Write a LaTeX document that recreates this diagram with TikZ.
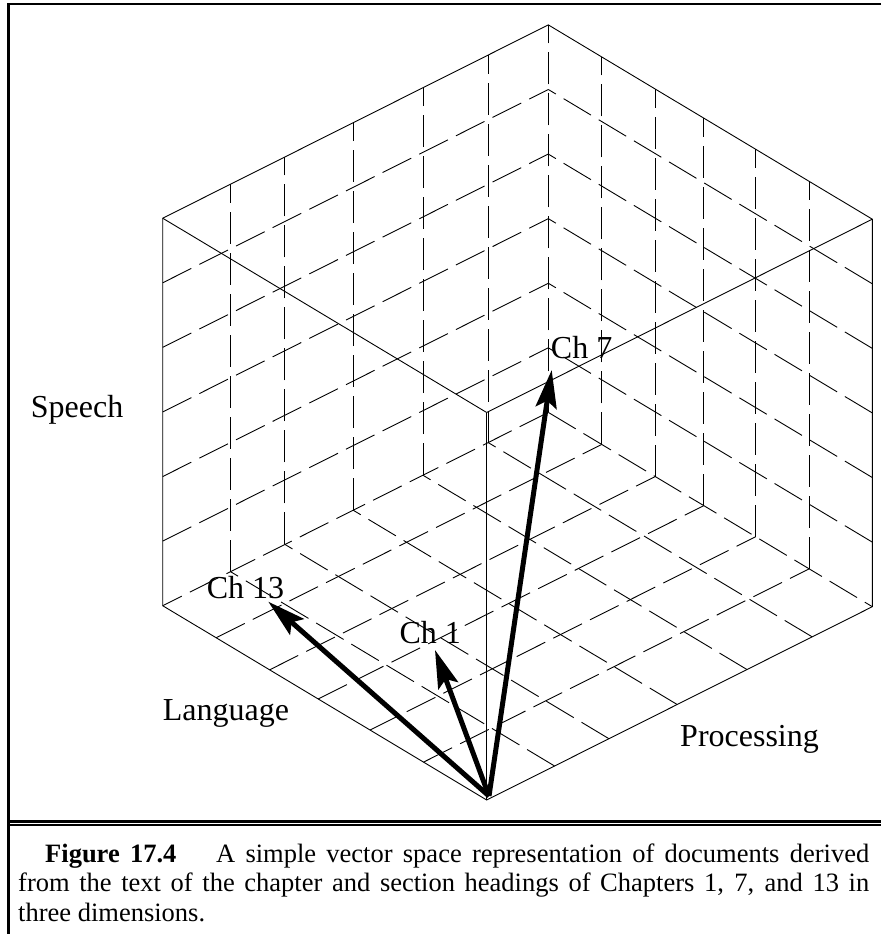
\documentclass[tikz,border=0pt]{standalone}
\usepackage{fontspec}
\setmainfont{Liberation Serif}
\usetikzlibrary{arrows.meta,calc}
\begin{document}
\begin{tikzpicture}[x=1pt,y=-1pt,
  edge/.style={line width=0.9pt, black},
  gridline/.style={line width=0.9pt, black, dash pattern=on 32pt off 9pt},
  vec/.style={line width=5pt, -{Stealth[length=38pt,width=21pt,inset=7pt]}},
  lab/.style={anchor=base west, inner sep=0pt, font=\fontsize{32}{38}\selectfont},
  framerule/.style={line width=2.7pt}]
\useasboundingbox (0,0) rectangle (881,934);
% frame
\draw[framerule, line join=miter] (881,4) -- (8.5,4) -- (8.5,934);
\draw[line width=2.7pt] (8.5,821.3) -- (881,821.3);
\draw[line width=1.5pt] (8.5,825.2) -- (881,825.2);
% cube vertices
\coordinate (O) at (486.7,800);
\coordinate (A) at (162.7,605.7);
\coordinate (B) at (872.3,606.7);
\coordinate (C) at (486.7,412.5);
\coordinate (D) at (162.7,218.2);
\coordinate (E) at (872.3,219.2);
\coordinate (F) at (548.3,412.4);
\coordinate (G) at (548.3,24.9);
% dashed back edges
\draw[gridline] (F) -- (A);
\draw[gridline] (F) -- (B);
\draw[gridline] (F) -- (G);
% rows of constant height on both back walls
\foreach \k in {1,...,5}{
  \draw[gridline] ($(A)!\k/6!(D)$) -- ($(F)!\k/6!(G)$);
  \draw[gridline] ($(B)!\k/6!(E)$) -- ($(F)!\k/6!(G)$);
}
% lines of constant p (left wall verticals and floor lines)
\foreach \f in {0.176,0.317,0.494,0.675,0.844}{
  \draw[gridline] ($(A)!\f!(F)$) -- ($(D)!\f!(G)$);
  \draw[gridline] ($(O)!\f!(B)$) -- ($(A)!\f!(F)$);
}
% lines of constant l (right wall verticals and floor lines)
\foreach \f in {0.195,0.36,0.52,0.67,0.835}{
  \draw[gridline] ($(B)!\f!(F)$) -- ($(E)!\f!(G)$);
  \draw[gridline] ($(O)!\f!(A)$) -- ($(B)!\f!(F)$);
}
% solid cube edges
\draw[edge] (O) -- (A) -- (D) -- (G) -- (E) -- (B) -- cycle;
\draw[edge] (C) -- (O);
\draw[edge] (C) -- (D);
\draw[edge] (C) -- (E);
% labels
\node[lab] (speech) at (30.7,417) {Speech};
\node[lab] (language) at (162.7,720) {Language};
\node[lab] (processing) at (680,746.7) {Processing};
\node[lab] (ch7) at (550.7,358.3) {Ch 7};
\node[lab] (ch1) at (399.3,643.3) {Ch 1};
\node[lab] (ch13) at (206.7,598.3) {Ch 13};
% vectors
\coordinate (base) at (489,796);
\coordinate (t7) at (551.7,370);
\coordinate (t1) at (435,650);
\coordinate (t13) at (268.3,601.7);
\draw[vec] (base) -- (t7);
\draw[vec] (base) -- (t1);
\draw[vec] (base) -- (t13);
% caption
\node[anchor=base west, inner sep=0pt] (caption) at (18,862) {\parbox[t]{851pt}{\fontsize{26.5}{29.5}\selectfont\hspace*{27pt}\textbf{Figure 17.4}\hspace{1.5em}A simple vector space representation of documents derived\linebreak from the text of the chapter and section headings of Chapters 1, 7, and 13 in\linebreak three dimensions.}};
\end{tikzpicture}
\end{document}
